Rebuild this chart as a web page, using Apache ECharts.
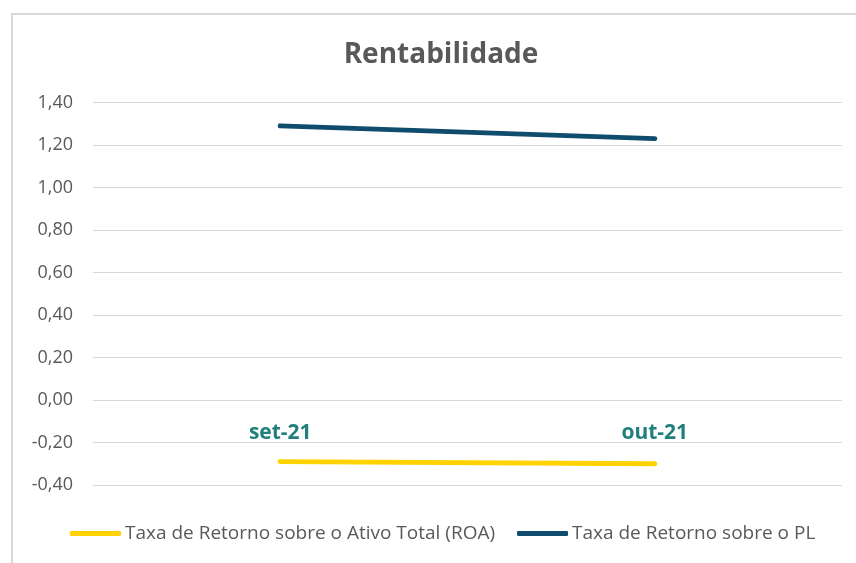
<!DOCTYPE html>
<html>
<head>
<meta charset="utf-8">
<script src="https://cdn.jsdelivr.net/npm/echarts@6/dist/echarts.min.js"></script>
<style>
html,body{margin:0;padding:0;background:#fff;}
#chart{width:856px;height:563px;}
</style>
</head>
<body>
<div id="chart"></div>
<script>
const categories = ['set-21', 'out-21'];
const roaValues = [-0.29, -0.30];
const plValues = [1.29, 1.23];
const seriesNames = ['Taxa de Retorno sobre o Ativo Total (ROA)', 'Taxa de Retorno sobre o PL'];
const titleText = 'Rentabilidade';

const FONT = '"Open Sans", sans-serif';
const chart = echarts.init(document.getElementById('chart'));
chart.setOption({
  backgroundColor: '#fff',
  animation: false,
  graphic: [{
    type: 'rect',
    shape: { x: 12, y: 14, width: 900, height: 600 },
    style: { fill: 'none', stroke: '#d9d9d9', lineWidth: 2 },
    silent: true
  }],
  title: {
    text: titleText,
    left: 436,
    textAlign: 'center',
    top: 36,
    textStyle: { fontFamily: FONT, fontSize: 28, fontWeight: 'bold', color: '#595959' }
  },
  legend: {
    bottom: 20,
    left: 70,
    padding: 0,
    itemWidth: 51,
    itemHeight: 5,
    itemGap: 22,
    icon: 'roundRect',
    textStyle: { fontFamily: FONT, fontSize: 19, color: '#595959', padding: [0, 0, 0, -1] },
    data: seriesNames
  },
  grid: { left: 93, right: 14, top: 102.5, bottom: 78, containLabel: false },
  xAxis: {
    type: 'category',
    data: categories,
    boundaryGap: true,
    offset: -85.7,
    axisLine: { show: false, onZero: false },
    axisTick: { show: false },
    axisLabel: { margin: 23, fontFamily: FONT, fontSize: 21, fontWeight: 'bold', color: '#217f7b' },
    splitLine: { show: false }
  },
  yAxis: {
    type: 'value',
    min: -0.4,
    max: 1.4,
    interval: 0.2,
    axisLine: { show: false },
    axisTick: { show: false },
    axisLabel: {
      margin: 20,
      fontFamily: FONT, fontSize: 18, color: '#595959',
      formatter: v => (Math.round(v * 100) / 100).toFixed(2).replace('.', ',')
    },
    splitLine: { lineStyle: { color: '#d9d9d9', width: 1.2 } }
  },
  series: [
    {
      name: seriesNames[0], type: 'line', data: roaValues,
      symbol: 'none', lineStyle: { width: 5, color: '#ffd200', cap: 'round' },
      itemStyle: { color: '#ffd200' }
    },
    {
      name: seriesNames[1], type: 'line', data: plValues,
      symbol: 'none', lineStyle: { width: 5, color: '#0f4c6e', cap: 'round' },
      itemStyle: { color: '#0f4c6e' }
    }
  ]
});
</script>
</body>
</html>
